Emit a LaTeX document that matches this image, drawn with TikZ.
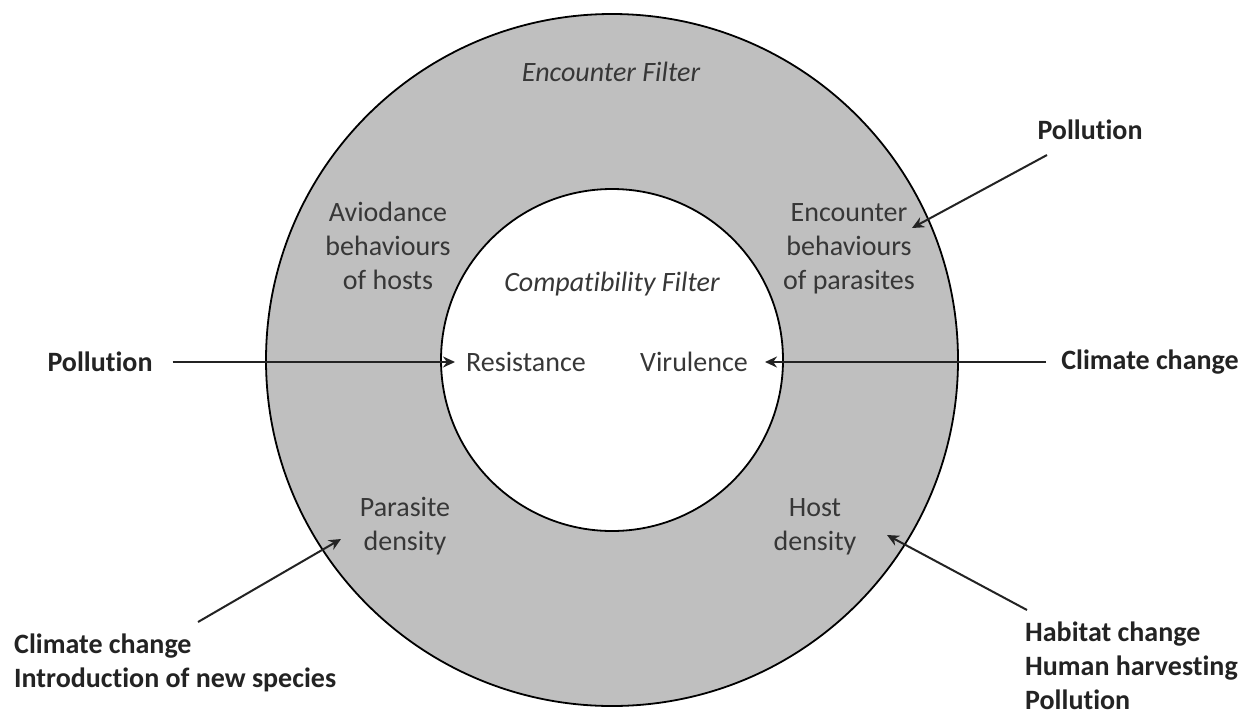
\documentclass[tikz,border=0pt]{standalone}
\usepackage{fontspec}
\setmainfont{Carlito}[Ligatures=NoCommon]
\usetikzlibrary{arrows.meta}
\definecolor{ringgray}{RGB}{191,191,191}
\definecolor{txtgray}{RGB}{55,55,55}
\definecolor{bldgray}{RGB}{35,35,35}
\begin{document}
\begin{tikzpicture}[x=1pt,y=-1pt,
  ringtext/.style={font=\fontsize{28}{34}\selectfont, text=txtgray, align=center, inner sep=0pt},
  filtertext/.style={font=\fontsize{28}{34}\selectfont\itshape, text=txtgray, align=center, inner sep=0pt},
  driver/.style={font=\fontsize{28}{34}\selectfont\bfseries, text=bldgray, align=left, inner sep=0pt},
  ring/.style={circle, draw=black, line width=1.8pt, inner sep=0pt},
  arr/.style={draw=bldgray, line width=2pt, -{Stealth[length=12pt,width=11pt]}}]
\useasboundingbox (0,0) rectangle (1246,715);
\fill[white] (0,0) rectangle (1246,715);
\node[ring, fill=ringgray, minimum size=692pt] (outer) at (612,360) {};
\node[ring, fill=white, minimum size=342pt] (inner) at (612,360) {};
% texts in the rings
\node[filtertext] (ef) at (611,72) {Encounter Filter};
\node[filtertext] (cf) at (612,284) {Compatibility Filter};
\node[ringtext] (avoid) at (388,246) {Aviodance\\behaviours\\of hosts};
\node[ringtext] (encb) at (849,249) {Encounter\\behaviours\\of parasites};
\node[ringtext] (res) at (526,362) {Resistance};
\node[ringtext] (vir) at (694,362) {Virulence};
\node[ringtext] (pd) at (405,526) {Parasite\\density};
\node[ringtext] (hd) at (815,527) {Host\\density};
% drivers
\node[driver] (pol1) at (100,362) {Pollution};
\node[driver] (cc1) at (1150,362) {Climate change};
\node[driver] (pol2) at (1090,130) {Pollution};
\node[driver, anchor=west] (cc2) at (14,663) {Climate change\\Introduction of new species};
\node[driver, anchor=west] (hab) at (1025,666) {Habitat change\\Human harvesting\\Pollution};
% free ends
\coordinate (pol2tail) at (1047,155);
\coordinate (encbtip) at (912,228);
\coordinate (cc2tail) at (198,622);
\coordinate (pdtip) at (341,539);
\coordinate (habtail) at (1027,610);
\coordinate (hdtip) at (887,535);
% connectors
\draw[arr, shorten <=20pt, shorten >=11pt] (pol1.east) -- (res.west);
\draw[arr, shorten <=15pt, shorten >=17pt] (cc1.west) -- (vir.east);
\draw[arr] (pol2tail) -- (encbtip);
\draw[arr] (cc2tail) -- (pdtip);
\draw[arr] (habtail) -- (hdtip);
\end{tikzpicture}
\end{document}
